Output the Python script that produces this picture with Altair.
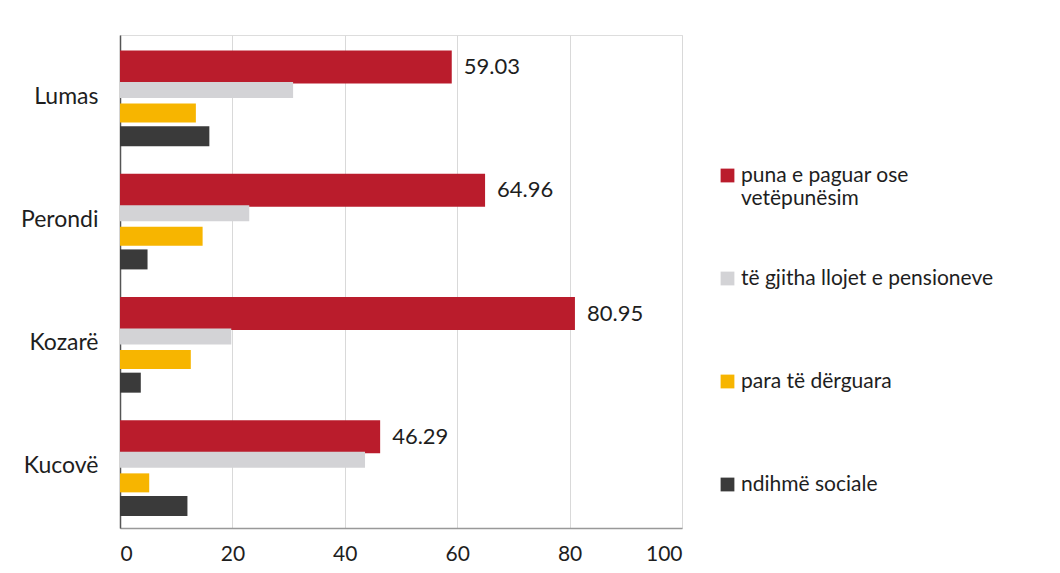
import altair as alt
import pandas as pd

categories = ["Lumas", "Perondi", "Kozarë", "Kucovë"]
series = ["puna e paguar ose vetëpunësim", "të gjitha llojet e pensioneve",
          "para të dërguara", "ndihmë sociale"]
puna = [59.03, 64.96, 80.95, 46.29]
pensione = [30.8, 23.0, 19.8, 43.6]
para = [13.5, 14.7, 12.6, 5.2]
ndihme = [15.9, 4.9, 3.7, 12.0]

colors = ["#BA1C2C", "#D3D3D6", "#F7B500", "#3A3A3A"]
thickness = [33, 16, 19, 20]

rows = []
for s, vals in zip(series, [puna, pensione, para, ndihme]):
    for c, v in zip(categories, vals):
        rows.append({"category": c, "series": s, "value": v})
df = pd.DataFrame(rows)

FONT = "Lato"
TXT = "#1E1E1E"

label_expr = ("datum.label == 'puna e paguar ose vetëpunësim' ? "
              "['puna e paguar ose', 'vetëpunësim'] : [datum.label, '']")

x_enc = alt.X("value:Q", title=None,
              scale=alt.Scale(domain=[0, 100], nice=False),
              axis=alt.Axis(values=[0, 20, 40, 60, 80, 100], ticks=False, grid=True,
                            gridColor="#D9D9D9", domainColor="#999999", domainWidth=1.5,
                            labelPadding=15, labelFontSize=21, labelColor=TXT,
                            labelFont=FONT))
y_enc = alt.Y("category:N", sort=categories, title=None,
              scale=alt.Scale(paddingInner=0, paddingOuter=0),
              axis=alt.Axis(domainColor="#555555", domainWidth=1.5, ticks=False,
                            labelPadding=22, labelFontSize=23, labelColor=TXT,
                            labelFont=FONT))
yoff_enc = alt.YOffset("series:N", sort=series,
                       scale=alt.Scale(domain=series, paddingInner=0, paddingOuter=0.674, align=0.66))
color_enc = alt.Color("series:N", sort=series,
                      scale=alt.Scale(domain=series, range=colors),
                      legend=alt.Legend(title=None, orient="none", legendX=597, legendY=130,
                                        symbolType="square", symbolSize=190, symbolStrokeWidth=0,
                                        labelFontSize=21, labelFont=FONT, labelColor=TXT,
                                        labelLimit=400, rowPadding=58,
                                        labelOffset=3, labelExpr=label_expr))

layers = []
for s, t in zip(series, thickness):
    layers.append(
        alt.Chart(df).transform_filter(alt.datum.series == s)
        .mark_bar(size=t)
        .encode(x=x_enc, y=y_enc, yOffset=yoff_enc, color=color_enc)
    )

labels = alt.Chart(df).transform_filter(
    alt.datum.series == series[0]
).mark_text(align="left", baseline="middle", dx=12, fontSize=22, font=FONT, color=TXT).encode(
    x="value:Q",
    y=alt.Y("category:N", sort=categories),
    yOffset=alt.YOffset("series:N", sort=series),
    text=alt.Text("value:Q", format=".2f"),
)

chart = alt.layer(*layers, labels).properties(
    width=562, height=493,
    autosize=alt.AutoSizeParams(type="none"),
    padding={"left": 112, "top": 27, "right": 370, "bottom": 37},
).configure_view(stroke=None).configure(background="white")

chart.save("out.html", embed_options={"renderer": "svg", "actions": False})
